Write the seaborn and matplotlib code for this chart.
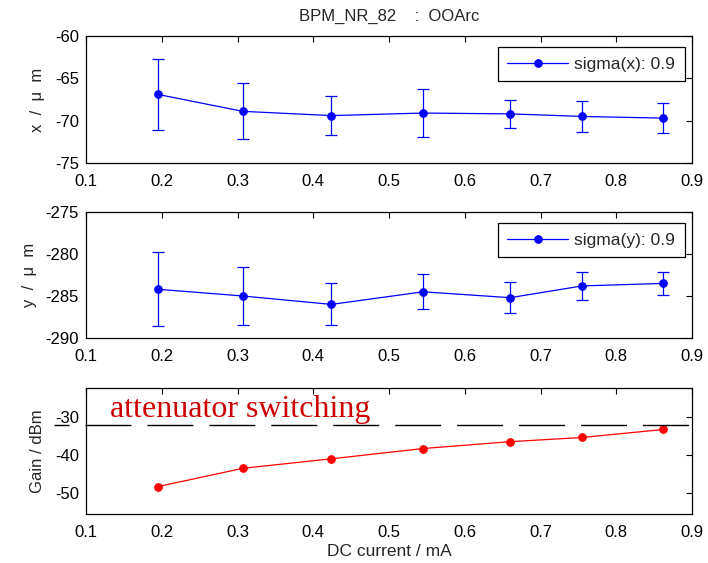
import matplotlib
matplotlib.use("Agg")
import matplotlib.pyplot as plt
import seaborn as sns
import pandas as pd

# ---- data ----
current = [0.195, 0.307, 0.424, 0.545, 0.660, 0.755, 0.862]
x_pos = [-66.9, -68.9, -69.4, -69.1, -69.2, -69.5, -69.7]
x_err = [4.2, 3.3, 2.3, 2.8, 1.65, 1.8, 1.8]
y_pos = [-284.2, -285.0, -286.0, -284.5, -285.2, -283.8, -283.5]
y_err = [4.4, 3.45, 2.5, 2.07, 1.85, 1.67, 1.37]
gain = [-48.2, -43.4, -40.9, -38.2, -36.4, -35.3, -33.2]
switch_level = -32.0
switch_span = [0.058, 0.9]
title = "BPM_NR_82    :  OOArc"
x_ticks = [0.1, 0.2, 0.3, 0.4, 0.5, 0.6, 0.7, 0.8, 0.9]

df = pd.DataFrame({"current": current, "x": x_pos, "xe": x_err,
                   "y": y_pos, "ye": y_err, "gain": gain})

sns.set_style("white")
plt.rcParams['font.family'] = ['Liberation Sans', 'DejaVu Sans']
plt.rcParams['font.size'] = 12

FS = 12
fig = plt.figure(figsize=(7.08, 5.63), dpi=100)
L, W = 86 / 708, 606 / 708
ax1 = fig.add_axes([L, 1 - 163 / 563, W, 127 / 563])
ax2 = fig.add_axes([L, 1 - 338 / 563, W, 126 / 563])
ax3 = fig.add_axes([L, 1 - 514 / 563, W, 126 / 563])


def style(ax, ylim, yticks):
    ax.set_xlim(0.1, 0.9)
    ax.set_xticks(x_ticks)
    ax.set_xticklabels([f"{t:.1f}" for t in x_ticks])
    ax.set_ylim(*ylim)
    ax.set_yticks(yticks)
    ax.set_yticklabels([f"{t:g}" for t in yticks])
    ax.tick_params(direction='in', length=4, width=0.8, top=True, right=True,
                   labelsize=FS, colors='black')
    ax.tick_params(axis='x', pad=8)
    ax.tick_params(axis='y', pad=5)
    for s in ax.spines.values():
        s.set_visible(True)
        s.set_color('black')
        s.set_linewidth(0.9)
    ax.set_facecolor('white')


def legend(ax):
    leg = ax.legend(loc='upper right', bbox_to_anchor=(0.988, 0.913), borderaxespad=0,
                    fancybox=False, edgecolor='black', framealpha=1, fontsize=12.5,
                    handlelength=3.5, borderpad=0.55, handletextpad=0.35)
    leg.get_frame().set_linewidth(0.9)


# top panel
sns.lineplot(data=df, x="current", y="x", ax=ax1, color="blue", lw=0.9,
             marker="o", markersize=5.5, markeredgecolor="blue",
             label="sigma(x): 0.9")
ax1.errorbar(df["current"], df["x"], yerr=df["xe"], fmt='none', ecolor='blue',
             elinewidth=0.9, capsize=4.3, capthick=0.9)
style(ax1, (-75, -60), [-75, -70, -65, -60])
ax1.set_xlabel("")
ax1.set_ylabel("x  /  μ  m", fontsize=FS, labelpad=7.5)
ax1.set_title(title, fontsize=FS, pad=11)
legend(ax1)

# middle panel
sns.lineplot(data=df, x="current", y="y", ax=ax2, color="blue", lw=0.9,
             marker="o", markersize=5.5, markeredgecolor="blue",
             label="sigma(y): 0.9")
ax2.errorbar(df["current"], df["y"], yerr=df["ye"], fmt='none', ecolor='blue',
             elinewidth=0.9, capsize=4.3, capthick=0.9)
style(ax2, (-290, -275), [-290, -285, -280, -275])
ax2.set_xlabel("")
ax2.set_ylabel("y  /  μ  m", fontsize=FS, labelpad=6.5)
legend(ax2)

# bottom panel
sns.lineplot(data=df, x="current", y="gain", ax=ax3, color="red", lw=0.9,
             marker="o", markersize=5.5, markeredgecolor="red")
style(ax3, (-55.4, -22.3), [-50, -40, -30])
ax3.plot(switch_span, [switch_level, switch_level], color='black', lw=1.0,
         linestyle=(22.3, (33.1, 11.5)), clip_on=False)
ax3.text(0.132, -29.9, "attenuator switching", color='#cc0000',
         family=['Liberation Serif', 'DejaVu Serif'], fontsize=23, va='baseline')
ax3.set_xlabel("DC current / mA", fontsize=12.5, labelpad=2.5)
ax3.set_ylabel("Gain / dBm", fontsize=FS, labelpad=7.5)

fig.savefig("out.png", dpi=100)
